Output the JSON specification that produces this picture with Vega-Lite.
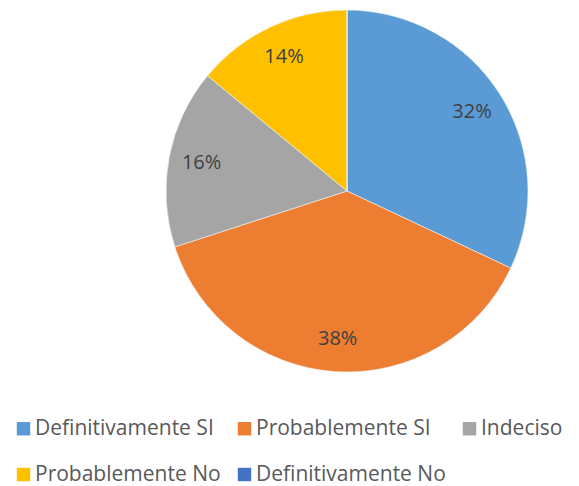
{
  "$schema": "https://vega.github.io/schema/vega-lite/v6.json",
  "autosize": {"type": "none"},
  "width": 362,
  "height": 362,
  "padding": {"left": 166, "top": 10, "right": 51, "bottom": 114},
  "background": "white",
  "data": {
    "values": [
      {"categoria": "Definitivamente SI", "valor": 32, "orden": 1, "etiqueta": "32%"},
      {"categoria": "Probablemente SI", "valor": 38, "orden": 2, "etiqueta": "38%"},
      {"categoria": "Indeciso", "valor": 16, "orden": 3, "etiqueta": "16%"},
      {"categoria": "Probablemente No", "valor": 14, "orden": 4, "etiqueta": "14%"},
      {"categoria": "Definitivamente No", "valor": 0, "orden": 5, "etiqueta": ""}
    ]
  },
  "encoding": {
    "theta": {"field": "valor", "type": "quantitative", "stack": true},
    "order": {"field": "orden", "type": "quantitative"}
  },
  "layer": [
    {
      "mark": {"type": "arc", "outerRadius": 181, "stroke": "#f4f4f4", "strokeWidth": 0.6},
      "encoding": {
        "color": {
          "field": "categoria",
          "type": "nominal",
          "scale": {
            "domain": ["Definitivamente SI", "Probablemente SI", "Indeciso", "Probablemente No", "Definitivamente No"],
            "range": ["#5B9BD5", "#ED7D31", "#A5A5A5", "#FFC000", "#4472C4"]
          },
          "legend": {
            "title": null,
            "orient": "none",
            "legendX": -153,
            "legendY": 408,
            "direction": "horizontal",
            "columns": 3,
            "gridAlign": "each",
            "columnPadding": 13,
            "rowPadding": 24,
            "symbolType": "square",
            "symbolSize": 180,
            "symbolStrokeWidth": 0,
            "symbolOffset": 0,
            "labelFont": "Open Sans",
            "labelFontSize": 21,
            "labelColor": "#595959",
            "labelOffset": 1,
            "labelLimit": 300
          }
        }
      }
    },
    {
      "transform": [{"filter": "datum.valor > 0"}],
      "mark": {"type": "text", "radius": 148, "font": "Open Sans", "fontSize": 20, "fill": "#404040"},
      "encoding": {
        "text": {"field": "etiqueta", "type": "nominal"}
      }
    }
  ]
}
